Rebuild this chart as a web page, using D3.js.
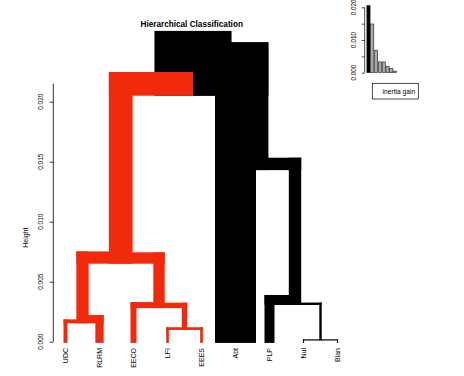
<!DOCTYPE html>
<html><head><meta charset="utf-8">
<script src="https://cdn.jsdelivr.net/npm/d3@7/dist/d3.min.js"></script>
<style>
body{margin:0;background:#fff}
svg{display:block}
text{font-family:"Liberation Sans", Arial, Helvetica, sans-serif;fill:#000}
</style>
</head><body>
<svg id="chart" width="464" height="376"></svg>
<script>
// ---------- data ----------
const leaves      = ["UDC","RLRM","EECO","LFI","EEES","Abt","PLP","Nul","Blan"];
const leafWeights = [4, 8.3, 6, 2.7, 2.7, 41, 10, 1.2, 1.2];
const leafGroup   = [1, 1, 1, 1, 1, 2, 2, 2, 2];
// hclust-style merges: negative = leaf (1-based), positive = earlier merge row
const mergeLeft   = [-8, -4, -1, -3, -7, 3, -6, 6];
const mergeRight  = [-9, -5, -2,  2,  1, 4,  5, 7];
const mergeHeight = [0.0001, 0.00098, 0.00153, 0.0028, 0.00306, 0.0065, 0.0143, 0.0205];
const rootEdgeTop = 0.0259;
const axisTop     = 0.0215;
const yTicks      = [0, 0.005, 0.010, 0.015, 0.020];
const gainValues  = [0.0205, 0.0149, 0.0069, 0.0033, 0.0033, 0.0020, 0.0013, 0.0005];
const gainTicks   = [0, 0.005, 0.010, 0.015, 0.020];
const gainLabelTicks = [0, 0.010, 0.020];
const groupColors = {1: "#f22a0c", 2: "#000000"};
const titleText   = "Hierarchical Classification";
const yLabelText  = "Height";
const legendText  = "inertia gain";

// ---------- scales ----------
const svg = d3.select("#chart");
const x = d3.scalePoint().domain(leaves).range([65.5, 337.5]);
const y = d3.scaleLinear().domain([0, 0.020]).range([341.7, 101.7]);
const w = d3.scaleLinear().domain([0, 1]).range([0, 1]);

// ---------- build tree ----------
const leafNodes = leaves.map((name, i) => ({
  name, leaf: true, h: 0, w: w(leafWeights[i]), x: x(name), group: leafGroup[i]
}));
const merged = [];
function getNode(k) { return k < 0 ? leafNodes[-k - 1] : merged[k - 1]; }
mergeLeft.forEach((l, i) => {
  const a = getNode(l), b = getNode(mergeRight[i]);
  merged.push({
    left: a, right: b, h: mergeHeight[i], w: a.w + b.w,
    x: (a.x + b.x) / 2, group: a.group === b.group ? a.group : 2
  });
});
const root = merged[merged.length - 1];

// column placement
function place(n) {
  if (n.leaf) { n.L = n.x - n.w / 2; n.R = n.x + n.w / 2; return; }
  place(n.left); place(n.right);
  let L = n.x - n.w / 2, R = n.x + n.w / 2;
  const cands = [n.left, n.right].filter(c => {
    const cl = c.x - c.w / 2, cr = c.x + c.w / 2;
    return cl < R && cr > L;
  });
  if (cands.length) {
    const c = cands.reduce((a, b) => (b.w > a.w ? b : a));
    if (c === n.left) { L = c.L; R = L + n.w; } else { R = c.R; L = R - n.w; }
  }
  n.L = L; n.R = R; n.cx = (L + R) / 2;
}
place(root);
leafNodes.forEach(d => d.cx = d.x);

// ---------- draw dendrogram ----------
const gTree = svg.append("g");
function rect(x0, x1, y0, y1, color) {
  gTree.append("rect")
    .attr("x", Math.min(x0, x1)).attr("y", Math.min(y0, y1))
    .attr("width", Math.abs(x1 - x0)).attr("height", Math.abs(y1 - y0))
    .attr("fill", color);
}
// root edge
rect(root.L, root.R, y(rootEdgeTop), y(root.h), groupColors[root.group]);
function drawEdges(p) {
  if (p.leaf) return;
  [p.left, p.right].forEach((c, k) => {
    const col = groupColors[c.group];
    const top = y(p.h) - c.w;
    const bottom = c.leaf ? y(0) + 1.2 : y(c.h);
    rect(c.L, c.R, top, bottom, col);               // vertical
    if (k === 0) rect(c.L, p.cx, top, y(p.h), col); // horizontal
    else rect(p.cx, c.R, top, y(p.h), col);
  });
  drawEdges(p.left); drawEdges(p.right);
}
drawEdges(root);

// ---------- y axis ----------
const axX = 53.3;
const gAxis = svg.append("g").attr("transform", `translate(${axX},0)`);
gAxis.call(d3.axisLeft(y).tickValues(yTicks).tickSize(3.5).tickFormat(""));
gAxis.select(".domain").remove();
gAxis.selectAll(".tick line").attr("stroke", "#000").attr("stroke-width", 0.8);
gAxis.append("line").attr("x1", 0).attr("x2", 0)
  .attr("y1", y(0)).attr("y2", y(axisTop)).attr("stroke", "#000").attr("stroke-width", 0.8);
svg.append("g").selectAll("text").data(yTicks).join("text")
  .attr("transform", d => `translate(41,${y(d)}) rotate(-90)`)
  .attr("text-anchor", "middle").attr("dy", "0.35em")
  .style("font-size", "6.5px")
  .text(d => d3.format(".3f")(d));
svg.append("text")
  .attr("transform", `translate(26,${(y(0) + y(0.020)) / 2 + 16}) rotate(-90)`)
  .attr("text-anchor", "middle").attr("dy", "0.35em")
  .style("font-size", "7px").text(yLabelText);

// leaf labels
svg.append("g").selectAll("text").data(leaves).join("text")
  .attr("transform", d => `translate(${x(d)},348) rotate(-90)`)
  .attr("text-anchor", "end").attr("dy", "0.35em")
  .style("font-size", "7px").text(d => d);

// title
svg.append("text").attr("x", 191.7).attr("y", 26.6)
  .attr("text-anchor", "middle").style("font-size", "8.2px").style("font-weight", "bold")
  .text(titleText);

// ---------- inset barplot ----------
const gy = d3.scaleLinear().domain([0, 0.020]).range([72.7, 7.3]);
const gx = d3.scaleBand().domain(d3.range(gainValues.length)).range([366.6, 397]).paddingInner(0.17).paddingOuter(0.08);
const gIn = svg.append("g");
gIn.selectAll("rect").data(gainValues).join("rect")
  .attr("x", (d, i) => gx(i)).attr("width", gx.bandwidth())
  .attr("y", d => gy(d)).attr("height", d => gy(0) - gy(d))
  .attr("fill", (d, i) => i === 0 ? "#000" : "#a8a8a8")
  .attr("stroke", "#000").attr("stroke-width", 0.5);
const gInAx = svg.append("g").attr("transform", "translate(364.7,0)");
gInAx.call(d3.axisLeft(gy).tickValues(gainTicks).tickSize(3).tickFormat(""));
gInAx.select(".domain").remove();
gInAx.selectAll(".tick line").attr("stroke", "#000").attr("stroke-width", 0.7);
gInAx.append("line").attr("x1", 0).attr("x2", 0).attr("y1", gy(0)).attr("y2", gy(0.020))
  .attr("stroke", "#000").attr("stroke-width", 0.7);
svg.append("g").selectAll("text").data(gainLabelTicks).join("text")
  .attr("transform", d => `translate(353.5,${gy(d)}) rotate(-90)`)
  .attr("text-anchor", "middle").attr("dy", "0.35em")
  .style("font-size", "6.3px").text(d => d3.format(".3f")(d));
// legend
svg.append("rect").attr("x", 372.3).attr("y", 83.3).attr("width", 46).attr("height", 15.7)
  .attr("fill", "none").attr("stroke", "#000").attr("stroke-width", 0.7);
svg.append("text").attr("x", 382.5).attr("y", 91.3).attr("dy", "0.35em")
  .style("font-size", "6.7px").text(legendText);
</script>
</body></html>
